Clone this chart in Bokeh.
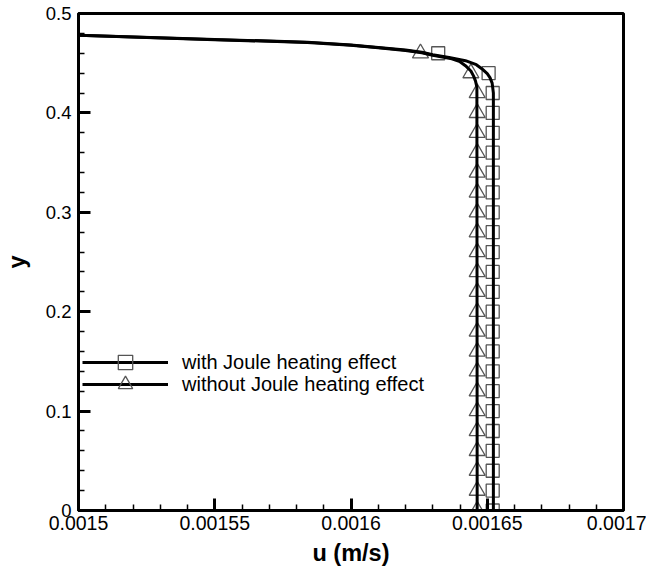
from bokeh.plotting import figure
from bokeh.models import Range1d, FixedTicker, CustomJSTickFormatter, Legend, LegendItem
from bokeh.embed import file_html
from bokeh.resources import INLINE

# ---- data ----
with_u = [0.0015, 0.00155, 0.001584, 0.0016, 0.00161, 0.00162, 0.001626, 0.00163,
          0.001636, 0.001642, 0.001646, 0.001648, 0.00165, 0.001651, 0.0016518,
          0.00165225, 0.00165225]
with_y = [0.478, 0.4739, 0.4712, 0.4684, 0.4659, 0.4632, 0.461, 0.4585,
          0.4558, 0.4525, 0.4485, 0.4445, 0.4395, 0.4355, 0.430,
          0.420, 0.0]

without_u = [0.0015, 0.00155, 0.001584, 0.0016, 0.00161, 0.00162, 0.001626, 0.00163,
             0.001637, 0.00164, 0.001642, 0.001644, 0.001645, 0.0016457, 0.0016462,
             0.0016463]
without_y = [0.478, 0.4737, 0.4709, 0.4681, 0.4655, 0.4628, 0.4605, 0.458,
             0.4545, 0.4515, 0.4475, 0.4421, 0.437, 0.432, 0.426,
             0.0]

sq_y = [0.00, 0.02, 0.04, 0.06, 0.08, 0.10, 0.12, 0.14, 0.16, 0.18, 0.20, 0.22,
        0.24, 0.26, 0.28, 0.30, 0.32, 0.34, 0.36, 0.38, 0.40, 0.42, 0.44, 0.46]
sq_u = [0.001652, 0.001652, 0.001652, 0.001652, 0.001652, 0.001652, 0.001652, 0.001652,
        0.001652, 0.001652, 0.001652, 0.001652, 0.001652, 0.001652, 0.001652, 0.001652,
        0.001652, 0.001652, 0.001652, 0.001652, 0.001652, 0.001652, 0.0016505, 0.001632]

tri_y = [0.00, 0.02, 0.04, 0.06, 0.08, 0.10, 0.12, 0.14, 0.16, 0.18, 0.20, 0.22,
         0.24, 0.26, 0.28, 0.30, 0.32, 0.34, 0.36, 0.38, 0.40, 0.42, 0.44, 0.46]
tri_u = [0.0016463, 0.0016463, 0.0016463, 0.0016463, 0.0016463, 0.0016463, 0.0016463, 0.0016463,
         0.0016463, 0.0016463, 0.0016463, 0.0016463, 0.0016463, 0.0016463, 0.0016463, 0.0016463,
         0.0016463, 0.0016463, 0.0016463, 0.0016463, 0.0016463, 0.0016463, 0.001644, 0.0016255]

x_ticks = [0.0015, 0.00155, 0.0016, 0.00165, 0.0017]
x_labels = ["0.0015", "0.00155", "0.0016", "0.00165", "0.0017"]
y_ticks = [0.0, 0.1, 0.2, 0.3, 0.4, 0.5]
y_labels = ["0", "0.1", "0.2", "0.3", "0.4", "0.5"]

labels = ["with Joule heating effect", "without Joule heating effect"]
x_title = "u (m/s)"
y_title = "y"

FONT = "Liberation Sans"

p = figure(width=646, height=568,
           x_range=Range1d(0.0015, 0.0017), y_range=Range1d(0, 0.5),
           output_backend="svg", toolbar_location=None,
           min_border_left=78, min_border_right=23,
           min_border_top=13, min_border_bottom=56)

p.xgrid.visible = False
p.ygrid.visible = False
p.outline_line_color = "black"
p.outline_line_width = 3
p.outline_line_alpha = 1

x_minor = [x_ticks[0] + i * (x_ticks[1] - x_ticks[0]) / 5 for i in range(21)]
y_minor = [y_ticks[0] + i * (y_ticks[1] - y_ticks[0]) / 5 for i in range(26)]

fmt_code = """
const i = tv.findIndex(t => Math.abs(t - tick) < 1e-9);
return i >= 0 ? tl[i] : "";
"""
p.xaxis.ticker = FixedTicker(ticks=x_ticks, minor_ticks=x_minor)
p.yaxis.ticker = FixedTicker(ticks=y_ticks, minor_ticks=y_minor)
p.xaxis.formatter = CustomJSTickFormatter(args=dict(tv=x_ticks, tl=x_labels), code=fmt_code)
p.yaxis.formatter = CustomJSTickFormatter(args=dict(tv=y_ticks, tl=y_labels), code=fmt_code)

for ax in (p.xaxis[0], p.yaxis[0]):
    ax.axis_line_width = 3
    ax.axis_line_color = "black"
    ax.major_tick_in = 12
    ax.major_tick_out = 0
    ax.minor_tick_in = 6
    ax.minor_tick_out = 0
    ax.major_tick_line_width = 3
    ax.minor_tick_line_width = 1.5
    ax.major_tick_line_color = "black"
    ax.minor_tick_line_color = "black"
    ax.major_label_text_font = FONT
    ax.major_label_text_color = "black"
    ax.axis_label_text_font = FONT
    ax.axis_label_text_font_style = "bold"
    ax.axis_label_text_font_size = "23.5px"
    ax.axis_label_text_color = "black"

p.xaxis.major_label_text_font_size = "19.5px"
p.yaxis.major_label_text_font_size = "18.5px"
p.xaxis.major_label_standoff = 5
p.yaxis.major_label_standoff = 7
p.xaxis.axis_label = x_title
p.yaxis.axis_label = y_title
p.xaxis.axis_label_standoff = 7
p.yaxis.axis_label_standoff = 13

MC = "#555555"
s1 = p.scatter(sq_u, sq_y, marker="square", size=13, fill_color=None,
               line_color=MC, line_width=1.3)
s2 = p.scatter(tri_u, tri_y, marker="triangle", size=16, fill_color=None,
               line_color=MC, line_width=1.3)
l1 = p.line(with_u, with_y, line_color="black", line_width=3)
l2 = p.line(without_u, without_y, line_color="black", line_width=3)

leg_style = dict(glyph_width=86, glyph_height=36, label_height=20,
                 label_standoff=14, spacing=0, padding=0, margin=0,
                 border_line_color=None, background_fill_alpha=0,
                 label_text_font=FONT, label_text_font_size="20px",
                 label_text_color="black")
leg1 = Legend(items=[LegendItem(label=labels[0], renderers=[l1, s1])],
              location=(4, 130), **leg_style)
leg2 = Legend(items=[LegendItem(label=labels[1], renderers=[l2, s2])],
              location=(4, 108), **leg_style)
p.add_layout(leg1)
p.add_layout(leg2)

open("out.html", "w").write(file_html(p, INLINE))
